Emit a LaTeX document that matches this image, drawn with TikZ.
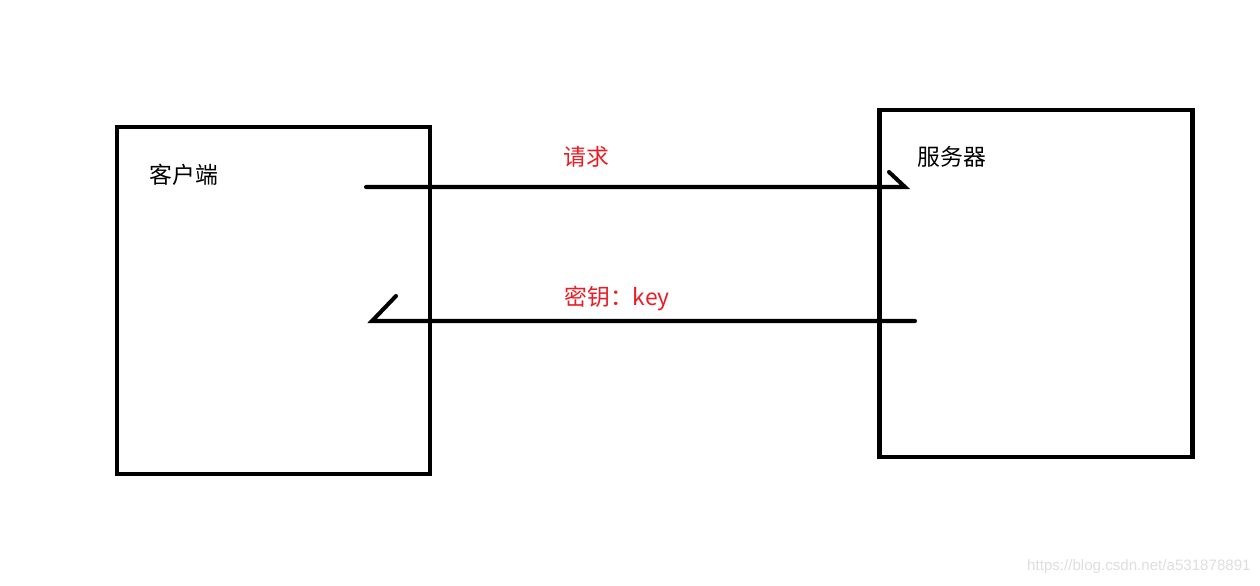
\documentclass[tikz,border=0pt]{standalone}
\usepackage{fontspec}
\setmainfont{Noto Sans CJK SC}
\newfontfamily\markfont{Liberation Sans}
\usepackage{tikz}
\usetikzlibrary{positioning}
\usepackage{xcolor}
\definecolor{ink}{HTML}{000000}
\definecolor{alert}{HTML}{ED1C24}
\tikzset{hostbox/.style={draw=ink,line width=2.8pt,minimum width=6.26cm,minimum height=6.94cm,inner sep=0pt}, msgline/.style={draw=ink,line width=2.3pt,line cap=round}, note/.style={font=\fontsize{13}{15}\selectfont,inner sep=0pt,anchor=west}, rednote/.style={note,text=alert}, markstyle/.style={font=\markfont\fontsize{8.6}{10}\selectfont,text=black!13,inner sep=0pt,anchor=east}}
\begin{document}
\begin{tikzpicture}[x=0.02cm,y=-0.02cm]
\useasboundingbox (0,0) rectangle (1260,585);
\node[hostbox] (C) at (273.5,300.5) {};
\node[hostbox] (S) at (1036,283.5) {};
\node[note] (CL) at (149,175) {客户端};
\node[note] (SL) at (917,157) {服务器};
\coordinate (R1) at (366,187);
\coordinate (R2) at (905,187);
\coordinate (R3) at (889,172);
\coordinate (K1) at (915,321);
\coordinate (K2) at (372,321);
\coordinate (K3) at (396,296);
\draw[msgline] (R1)--(R2)--(R3);
\draw[msgline] (K1)--(K2)--(K3);
\node[rednote] (RL) at (563,157) {请求};
\node[rednote] (KL) at (564,298) {密钥：key};
\node[markstyle] (WM) at (1251,567) {https://blog.csdn.net/a531878891};
\end{tikzpicture}
\end{document}
